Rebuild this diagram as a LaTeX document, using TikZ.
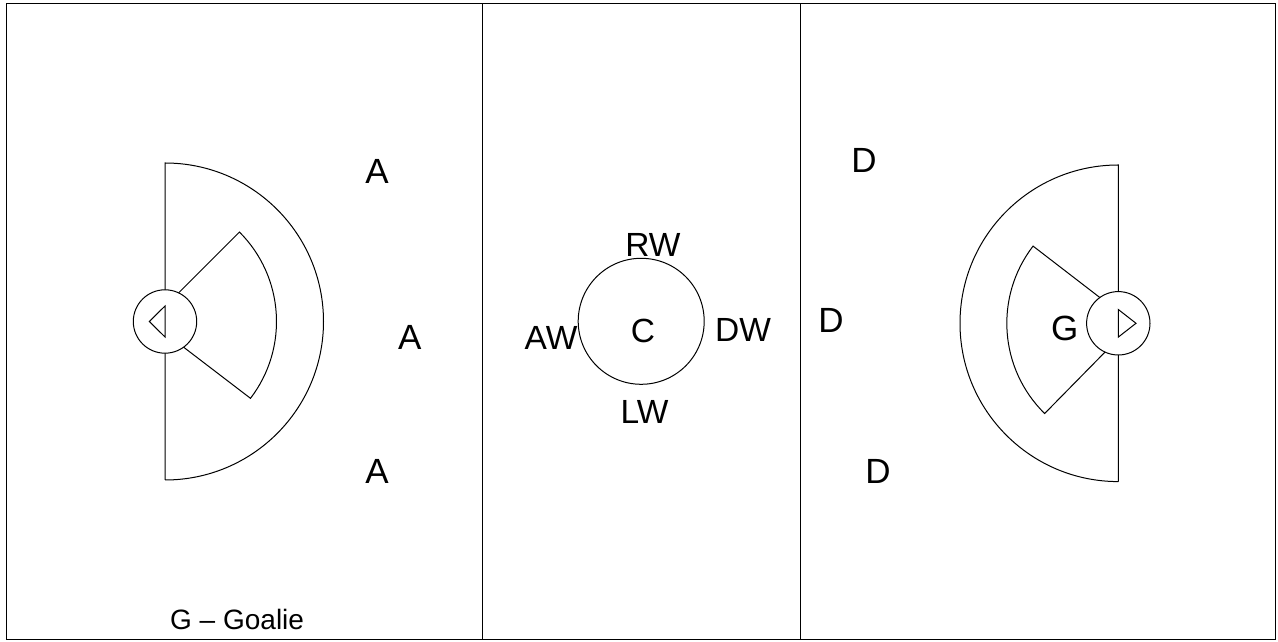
\documentclass[tikz,border=0pt]{standalone}
\usepackage{fontspec}
\setmainfont{Liberation Sans}
\begin{document}
\begin{tikzpicture}[x=1pt,y=1pt,
  line/.style={draw=black,line width=1pt},
  big/.style={inner sep=0pt,font=\fontsize{35}{40}\selectfont},
  mid/.style={inner sep=0pt,font=\fontsize{33.5}{38}\selectfont},
  small/.style={inner sep=0pt,font=\fontsize{28}{33}\selectfont}]
\useasboundingbox (0,0) rectangle (1278,642);
% field
\draw[line] (6.5,2) rectangle (1275.5,638);
\draw[line] (482.5,2) -- (482.5,638);
\draw[line] (800,2) -- (800,638);
% left goal area
\draw[line] (165,162) -- (165,479) arc[start angle=90,end angle=-90,radius=158.5];
\draw[line] (150,320.5) -- ++(45:126.5) arc[start angle=45,end angle=-37.4,radius=126.5] -- cycle;
\draw[line,fill=white] (165,320.5) circle[radius=31.7];
\draw[line] (165,336) -- (149.3,320.5) -- (165,305) -- cycle;
% right goal area
\draw[line] (1118.3,160.4) -- (1118.3,477) arc[start angle=90,end angle=270,radius=158.3];
\draw[line] (1133.3,318.7) -- ++(142.4:126.5) arc[start angle=142.4,end angle=225.5,radius=126.5] -- cycle;
\draw[line,fill=white] (1118.3,318.7) circle[radius=31.7];
\draw[line] (1118.3,332.5) -- (1136,318.7) -- (1118.3,304.9) -- cycle;
% center circle
\draw[line] (641.2,320.7) circle[radius=63];
% labels
\node[big] (a1) at (377,471) {A};
\node[big] (a2) at (409.7,304.5) {A};
\node[big] (a3) at (377,171) {A};
\node[big] (d1) at (864,481.5) {D};
\node[big] (d2) at (831,321.5) {D};
\node[big] (d3) at (878,171) {D};
\node[big] (g) at (1064.7,314) {G};
\node[mid] (rw) at (653,397) {RW};
\node[mid] (aw) at (551,304) {AW};
\node[mid] (c) at (643,311) {C};
\node[mid] (dw) at (743,312) {DW};
\node[mid] (lw) at (644.5,230.3) {LW};
\node[small,anchor=base west] (legend) at (170,12) {G – Goalie};
\end{tikzpicture}
\end{document}
